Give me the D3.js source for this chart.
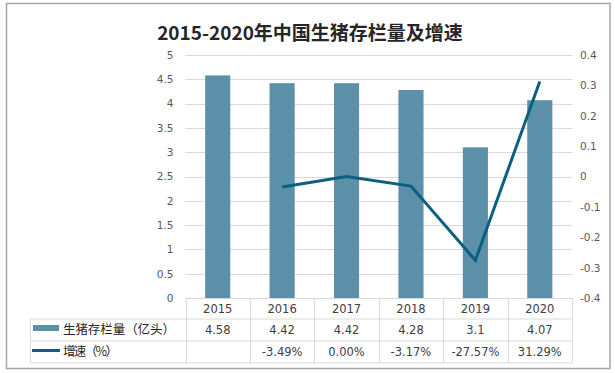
<!DOCTYPE html>
<html>
<head>
<meta charset="utf-8">
<script src="https://cdn.jsdelivr.net/npm/d3@7"></script>
<style>
  body { margin: 0; background: #fff; }
  text { font-family: "Liberation Sans", "Noto Sans CJK SC", sans-serif; }
</style>
</head>
<body>
<div id="chart"></div>
<script>
var width = 615, height = 373;

// data
var years = ["2015", "2016", "2017", "2018", "2019", "2020"];
var stock = [4.58, 4.42, 4.42, 4.28, 3.1, 4.07];          // 生猪存栏量（亿头）
var growth = [null, -0.0349, 0.0, -0.0317, -0.2757, 0.3129]; // 增速
var leftTicks = [0, 0.5, 1, 1.5, 2, 2.5, 3, 3.5, 4, 4.5, 5];
var rightTicks = [-0.4, -0.3, -0.2, -0.1, 0, 0.1, 0.2, 0.3, 0.4];
var seriesNames = ["生猪存栏量（亿头）", "增速（%）"];
var title = "2015-2020年中国生猪存栏量及增速";

var barColor = "#5b90a8", lineColor = "#0b5f80", gridColor = "#d9d9d9", tickColor = "#595959";

var plotLeft = 185.5, plotRight = 572, plotTop = 55, plotBottom = 298;
var rowTops = [298, 318.5, 340.5, 362.5];
var tableLeft = 30;
var nameWidths = [112, 55];

var svg = d3.select("#chart").append("svg").attr("width", width).attr("height", height);

// outer frame
svg.append("rect").attr("x", 6.5).attr("y", 3.5).attr("width", 603.5).attr("height", 365)
  .attr("fill", "#fff").attr("stroke", "#a6a6a6").attr("stroke-width", 1.5);

svg.append("text").attr("x", 310).attr("y", 40).attr("text-anchor", "middle")
  .attr("font-size", 19).attr("font-weight", "bold").attr("fill", "#262626")
  .style("font-family", "'Noto Sans CJK SC', sans-serif").text(title);

var x = d3.scaleBand().domain(years).range([plotLeft, plotRight]).padding(0);
var yL = d3.scaleLinear().domain([0, 5]).range([plotBottom, plotTop]);
var yR = d3.scaleLinear().domain([-0.4, 0.4]).range([plotBottom, plotTop]);

// gridlines
svg.append("g").selectAll("line").data(leftTicks.slice(1)).enter().append("line")
  .attr("x1", plotLeft).attr("x2", plotRight)
  .attr("y1", function(d) { return Math.round(yL(d)) + 0.5; })
  .attr("y2", function(d) { return Math.round(yL(d)) + 0.5; })
  .attr("stroke", gridColor).attr("stroke-width", 1);

// left axis
var axL = svg.append("g").attr("transform", "translate(" + (plotLeft - 12) + ",0)")
  .call(d3.axisLeft(yL).tickValues(leftTicks).tickSize(0).tickPadding(0).tickFormat(d3.format("")));
axL.select(".domain").remove();
axL.selectAll("text").attr("fill", tickColor).style("font-family", "'DejaVu Sans', sans-serif").attr("font-size", 10.5);

// right axis
var axR = svg.append("g").attr("transform", "translate(" + (plotRight + 8) + ",0)")
  .call(d3.axisRight(yR).tickValues(rightTicks).tickSize(0).tickPadding(0).tickFormat(function(d) { return d3.format("")(+d.toFixed(1)).replace("−", "-"); }));
axR.select(".domain").remove();
axR.selectAll("text").attr("fill", tickColor).style("font-family", "'DejaVu Sans', sans-serif").attr("font-size", 10.5);

// bars
var barW = x.bandwidth() * 0.39;
svg.append("g").selectAll("rect").data(years).enter().append("rect")
  .attr("x", function(d) { return x(d) + (x.bandwidth() - barW) / 2; })
  .attr("y", function(d, i) { return yL(stock[i]); })
  .attr("width", barW)
  .attr("height", function(d, i) { return plotBottom - yL(stock[i]); })
  .attr("fill", barColor);

// line
var line = d3.line()
  .defined(function(d, i) { return growth[i] !== null; })
  .x(function(d) { return x(d) + x.bandwidth() / 2; })
  .y(function(d, i) { return yR(growth[i]); });
svg.append("path").datum(years).attr("d", line)
  .attr("fill", "none").attr("stroke", lineColor).attr("stroke-width", 3).attr("stroke-linejoin", "miter");

// data table
var t = svg.append("g").attr("stroke", gridColor).attr("stroke-width", 1);
t.append("line").attr("x1", plotLeft).attr("x2", plotRight).attr("y1", rowTops[0] + 0.5).attr("y2", rowTops[0] + 0.5);
rowTops.slice(1).forEach(function(r) {
  t.append("line").attr("x1", tableLeft).attr("x2", plotRight).attr("y1", r + 0.5).attr("y2", r + 0.5);
});
t.append("line").attr("x1", tableLeft + 0.5).attr("x2", tableLeft + 0.5).attr("y1", rowTops[1]).attr("y2", rowTops[3]);
years.concat(["end"]).forEach(function(d, i) {
  var xx = i < years.length ? x(d) : plotRight;
  t.append("line").attr("x1", Math.round(xx) + 0.5).attr("x2", Math.round(xx) + 0.5)
    .attr("y1", rowTops[0]).attr("y2", rowTops[3]);
});

var pct = function(v) { return v === null ? "" : (v * 100).toFixed(2) + "%"; };
var rows = [years, stock.map(String), growth.map(pct)];
rows.forEach(function(vals, r) {
  svg.append("g").selectAll("text").data(vals).enter().append("text")
    .attr("x", function(d, i) { return x(years[i]) + x.bandwidth() / 2; })
    .attr("y", (rowTops[r] + rowTops[r + 1]) / 2 + 4.5)
    .attr("text-anchor", "middle").attr("fill", "#404040")
    .style("font-family", "'DejaVu Sans', sans-serif").attr("font-size", 11.5)
    .text(function(d) { return d; });
});

// legend keys in row headers
svg.append("rect").attr("x", 33).attr("y", 325).attr("width", 26).attr("height", 6).attr("fill", barColor);
svg.append("line").attr("x1", 32).attr("x2", 60).attr("y1", 350.5).attr("y2", 350.5)
  .attr("stroke", lineColor).attr("stroke-width", 3);
seriesNames.forEach(function(n, i) {
  svg.append("text").attr("x", 63).attr("y", (rowTops[i + 1] + rowTops[i + 2]) / 2 + 4.5)
    .attr("font-size", 12.5).attr("fill", "#262626").style("font-family", "'Noto Sans CJK SC', sans-serif")
    .attr("textLength", nameWidths[i]).attr("lengthAdjust", "spacing")
    .text(n);
});
</script>
</body>
</html>
